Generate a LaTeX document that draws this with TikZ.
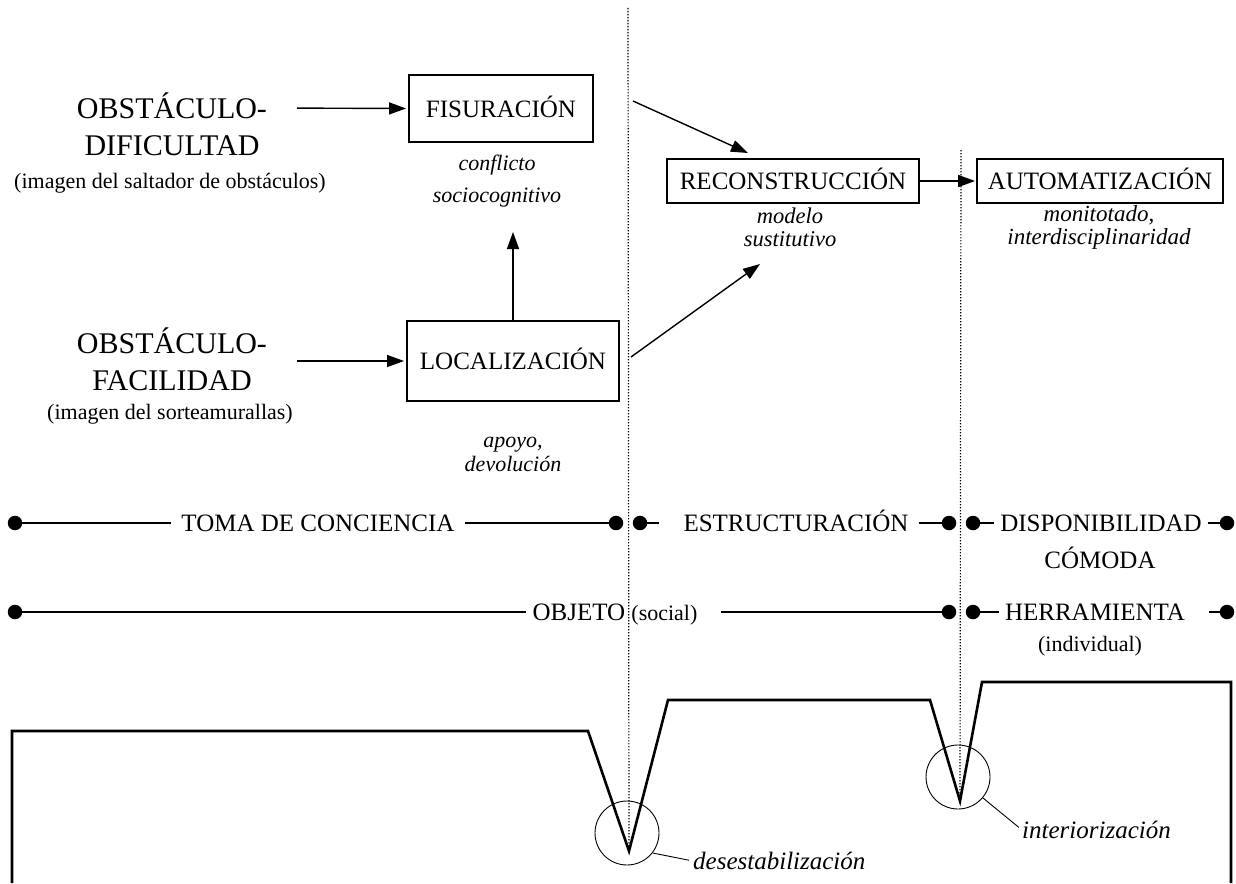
\documentclass[tikz,border=0pt]{standalone}
\usepackage{fontspec}
\setmainfont{Liberation Serif}
\usetikzlibrary{arrows.meta}
\newcommand{\BigF}{\fontsize{30}{36}\selectfont}
\newcommand{\MidF}{\fontsize{25}{30}\selectfont}
\newcommand{\SmallF}{\fontsize{22}{26}\selectfont}
\begin{document}
\begin{tikzpicture}[x=1pt,y=-1pt,
  box/.style={draw, line width=1.9pt, inner sep=0pt, font=\MidF, text height=17pt, text depth=0pt},
  lab/.style={font=\MidF, text height=17pt, text depth=0pt, inner ysep=0pt, inner xsep=10pt},
  big/.style={font=\BigF, inner sep=0pt, text height=20pt, text depth=0pt},
  sub/.style={font=\SmallF, inner sep=0pt},
  ann/.style={align=center, inner sep=0pt},
  arr/.style={line width=1.4pt, -{Triangle[length=17pt,width=12pt]}},
  tline/.style={line width=1.9pt},
  tdot/.style={circle, fill, inner sep=0pt, minimum size=14.5pt},
  dotl/.style={line width=1.2pt, dash pattern=on 1.4pt off 1.6pt},
  prof/.style={line width=2.6pt, line join=miter},
  ring/.style={draw, circle, line width=0.9pt, minimum size=64pt, inner sep=0pt}
]
\useasboundingbox (0,0) rectangle (1236,883);

% ---- left labels
\node[big] (od1) at (172,108) {OBSTÁCULO-};
\node[big] (od2) at (172,145) {DIFICULTAD};
\node[sub] (od3) at (170,183) {(imagen del saltador de obstáculos)};
\node[big] (of1) at (172,343) {OBSTÁCULO-};
\node[big] (of2) at (172,380) {FACILIDAD};
\node[sub] (of3) at (170,414) {(imagen del sorteamurallas)};

% ---- boxes
\node[box, minimum width=184pt, minimum height=67pt] (fis) at (501,108.5) {FISURACIÓN};
\node[box, minimum width=212pt, minimum height=80pt] (loc) at (513,361) {LOCALIZACIÓN};
\node[box, minimum width=252pt, minimum height=44pt] (rec) at (793,181) {RECONSTRUCCIÓN};
\node[box, minimum width=246pt, minimum height=44pt] (aut) at (1100,181) {AUTOMATIZACIÓN};

% ---- annotations
\node[ann, font=\fontsize{22}{32}\selectfont\itshape] (a1) at (497,181) {conflicto\\sociocognitivo};
\node[ann, font=\fontsize{22.5}{23}\selectfont\itshape] (a2) at (790,227) {modelo\\sustitutivo};
\node[ann, font=\fontsize{23}{23}\selectfont\itshape] (a3) at (1099,227) {monitotado,\\interdisciplinaridad};
\node[ann, font=\fontsize{22}{24}\selectfont\itshape] (a4) at (513,454) {apoyo,\\devolución};

% ---- arrows
\draw[arr, shorten <=30pt, shorten >=2pt] (od1.east) -- (fis.west);
\draw[arr, shorten <=30pt, shorten >=2pt] (of1.east |- loc.west) -- (loc.west);
\draw[arr] (loc.north) -- (513,232) coordinate (upTip);
\coordinate (f1) at (633,101);
\coordinate (r1) at (748,153);
\draw[arr] (f1) -- (r1);
\coordinate (l1) at (631,357);
\coordinate (r2) at (760,264);
\draw[arr] (l1) -- (r2);
\draw[arr, shorten >=1pt] (rec.east) -- (aut.west);

% ---- dotted verticals and profile
\coordinate (v1) at (629,851);
\coordinate (v2) at (960,801);
\draw[dotl] (628,8) -- (v1);
\draw[dotl] (961,150) -- (v2);
\draw[prof] (12,883) -- (12,731) -- (588,731) -- (v1) -- (668,700) -- (930,700) -- (v2) -- (982,682) -- (1231,682) -- (1231,883);

% ---- rings
\node[ring] (c1) at (627,833) {};
\node[ring] (c2) at (958,777) {};
\node[font=\fontsize{25}{28}\selectfont\itshape, anchor=west, inner sep=0pt] (d1) at (693,861) {desestabilización};
\node[font=\fontsize{25}{28}\selectfont\itshape, anchor=west, inner sep=0pt] (d2) at (1022,830) {interiorización};
\draw[line width=0.9pt, shorten >=4pt] (c1.-38) -- (d1.west);
\draw[line width=0.9pt, shorten >=4pt] (c2.-40) -- (d2.west);

% ---- timeline 1
\node[tdot] (t1a) at (15,523) {};
\node[lab] (tt1) at (318,523) {TOMA DE CONCIENCIA};
\node[tdot] (t1b) at (616,523) {};
\node[tdot] (t1c) at (640,523) {};
\node[lab] (tt2) at (796,523) {ESTRUCTURACIÓN};
\node[tdot] (t1d) at (949,523) {};
\node[tdot] (t1e) at (973,523) {};
\node[lab, inner xsep=6pt] (tt3) at (1101,523) {DISPONIBILIDAD};
\node[tdot] (t1f) at (1227,523) {};
\node[lab, inner xsep=0pt] (tt3b) at (1100,560) {CÓMODA};
\draw[tline] (t1a) -- (tt1);
\draw[tline] (tt1) -- (t1b);
\draw[tline, shorten >=14pt] (t1c) -- (tt2);
\draw[tline] (tt2) -- (t1d);
\draw[tline] (t1e) -- (tt3);
\draw[tline] (tt3) -- (t1f);

% ---- timeline 2
\node[tdot] (t2a) at (15,612) {};
\node[lab, inner xsep=6pt] (to) at (615,612) {OBJETO {\SmallF(social)}};
\node[tdot] (t2b) at (949,612) {};
\node[tdot] (t2c) at (973,612) {};
\node[lab, inner xsep=6pt] (th) at (1095,612) {HERRAMIENTA};
\node[tdot] (t2d) at (1227,612) {};
\node[sub] (thb) at (1090,646) {(individual)};
\draw[tline] (t2a) -- (to);
\draw[tline, shorten <=17pt] (to) -- (t2b);
\draw[tline] (t2c) -- (th);
\draw[tline, shorten <=18pt] (th) -- (t2d);
\end{tikzpicture}
\end{document}
